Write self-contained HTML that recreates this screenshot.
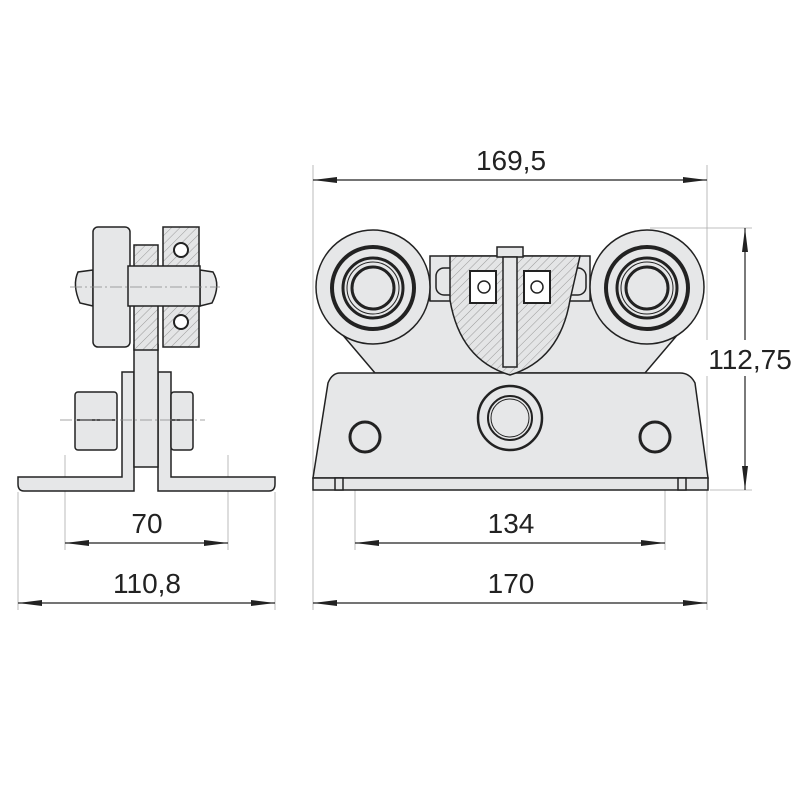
<!DOCTYPE html>
<html><head><meta charset="utf-8"><style>html,body{margin:0;padding:0;background:#fff}svg{display:block}</style></head>
<body>
<svg width="800" height="800" viewBox="0 0 800 800" xmlns="http://www.w3.org/2000/svg" font-family="Liberation Sans, sans-serif">
<defs>
<pattern id="h" patternUnits="userSpaceOnUse" width="6" height="6" patternTransform="rotate(45)">
<rect width="6" height="6" fill="#e4e5e6"/><line x1="0" y1="0" x2="0" y2="6" stroke="#9a9a9a" stroke-width="1"/></pattern>
<marker id="a" markerWidth="24" markerHeight="8" refX="24" refY="4" orient="auto" markerUnits="userSpaceOnUse"><path d="M0,1 L24,4 L0,7 z" fill="#222"/></marker>
<marker id="b" markerWidth="24" markerHeight="8" refX="0" refY="4" orient="auto" markerUnits="userSpaceOnUse"><path d="M24,1 L0,4 L24,7 z" fill="#222"/></marker>
</defs>
<g stroke="#aaa" stroke-width="0.8" fill="none">
<line x1="18" y1="492" x2="18" y2="610"/><line x1="275" y1="492" x2="275" y2="610"/>
<line x1="65" y1="455" x2="65" y2="550"/><line x1="228" y1="455" x2="228" y2="550"/>
<line x1="313" y1="165" x2="313" y2="610"/><line x1="707" y1="165" x2="707" y2="610"/>
<line x1="355" y1="478" x2="355" y2="550"/><line x1="665" y1="478" x2="665" y2="550"/>
<line x1="650" y1="228" x2="752" y2="228"/><line x1="710" y1="490" x2="752" y2="490"/>
</g>
<g stroke="#222" stroke-width="1.2">
<line x1="313" y1="180" x2="707" y2="180" marker-start="url(#b)" marker-end="url(#a)"/>
<line x1="745" y1="228" x2="745" y2="490" marker-start="url(#b)" marker-end="url(#a)"/>
<line x1="355" y1="543" x2="665" y2="543" marker-start="url(#b)" marker-end="url(#a)"/>
<line x1="313" y1="603" x2="707" y2="603" marker-start="url(#b)" marker-end="url(#a)"/>
<line x1="65" y1="543" x2="228" y2="543" marker-start="url(#b)" marker-end="url(#a)"/>
<line x1="18" y1="603" x2="275" y2="603" marker-start="url(#b)" marker-end="url(#a)"/>
</g>
<rect x="702" y="340" width="96" height="36" fill="#fff"/>
<g font-size="28" fill="#222" text-anchor="middle">
<text x="511" y="170">169,5</text>
<text x="750" y="369">112,75</text>
<text x="511" y="533">134</text>
<text x="511" y="593">170</text>
<text x="147" y="533">70</text>
<text x="147" y="593">110,8</text>
</g>

<!-- LEFT VIEW -->
<g stroke="#222" stroke-width="1.5" fill="#e6e7e8">
<path d="M18,477 H122 V372 H134 V491 H24 Q18,491 18,484 Z"/>
<path d="M275,477 H171 V372 H158 V491 H269 Q275,491 275,484 Z"/>
<rect x="134" y="345" width="24" height="122"/>
<rect x="75" y="392" width="42" height="58" rx="3"/>
<line x1="77" y1="420" x2="115" y2="420"/>
<rect x="171" y="392" width="22" height="58" rx="3"/>
<line x1="171" y1="420" x2="193" y2="420"/>
<path d="M93,270 L78,272 Q72,285 80,303 L93,306 Z"/>
<path d="M200,270 L213,272 Q221,285 212,303 L200,306 Z"/>
<rect x="134" y="245" width="24" height="105" fill="url(#h)"/>
<rect x="163" y="227" width="36" height="120" fill="url(#h)"/>
<rect x="93" y="227" width="37" height="120" rx="5"/>
<rect x="128" y="266" width="72" height="40"/>
<circle cx="181" cy="250" r="7" fill="#fff" stroke-width="2"/>
<circle cx="181" cy="322" r="7" fill="#fff" stroke-width="2"/>
</g>
<line x1="70" y1="287" x2="220" y2="287" stroke="#888" stroke-dasharray="12,3,2,3" stroke-width="0.8"/>
<line x1="60" y1="420" x2="205" y2="420" stroke="#888" stroke-dasharray="12,3,2,3" stroke-width="0.8"/>

<!-- RIGHT VIEW -->
<g stroke="#222" stroke-width="1.5" fill="#e6e7e8">
<path d="M330,320 L375,373 H645 L690,320 L650,300 H370 Z"/>
<path d="M340,373 H680 Q690,373 695,383 L708,478 H313 L328,383 Q332,373 340,373 Z"/>
<rect x="313" y="478" width="395" height="12"/>
<rect x="335" y="478" width="8" height="12"/><rect x="678" y="478" width="8" height="12"/>
<rect x="430" y="256" width="160" height="45"/>
<rect x="436" y="268" width="150" height="27" rx="8"/>
<path d="M450,256 H580 L570,300 Q560,360 510,375 Q460,360 450,300 Z" fill="url(#h)"/>
<rect x="470" y="271" width="26" height="32" fill="#fff" stroke-width="2"/>
<rect x="524" y="271" width="26" height="32" fill="#fff" stroke-width="2"/>
<circle cx="484" cy="287" r="6" fill="#fff"/><circle cx="537" cy="287" r="6" fill="#fff"/>
<rect x="497" y="247" width="26" height="10"/>
<rect x="503" y="257" width="14" height="110"/>
<circle cx="373" cy="287" r="57"/>
<circle cx="647" cy="287" r="57"/>
<circle cx="510" cy="418" r="32" stroke-width="2.5"/>
<circle cx="510" cy="418" r="22" stroke-width="2"/>
<circle cx="365" cy="437" r="15" stroke-width="3"/>
<circle cx="655" cy="437" r="15" stroke-width="3"/>
</g>
<g fill="none" stroke="#222">
<circle cx="373" cy="288" r="41" stroke-width="4"/><circle cx="373" cy="288" r="30" stroke-width="3"/>
<circle cx="373" cy="288" r="26" stroke-width="1"/><circle cx="373" cy="288" r="21" stroke-width="3"/>
<circle cx="647" cy="288" r="41" stroke-width="4"/><circle cx="647" cy="288" r="30" stroke-width="3"/>
<circle cx="647" cy="288" r="26" stroke-width="1"/><circle cx="647" cy="288" r="21" stroke-width="3"/>
<circle cx="510" cy="418" r="19" stroke-width="1"/>
</g>
</svg>
</body></html>
